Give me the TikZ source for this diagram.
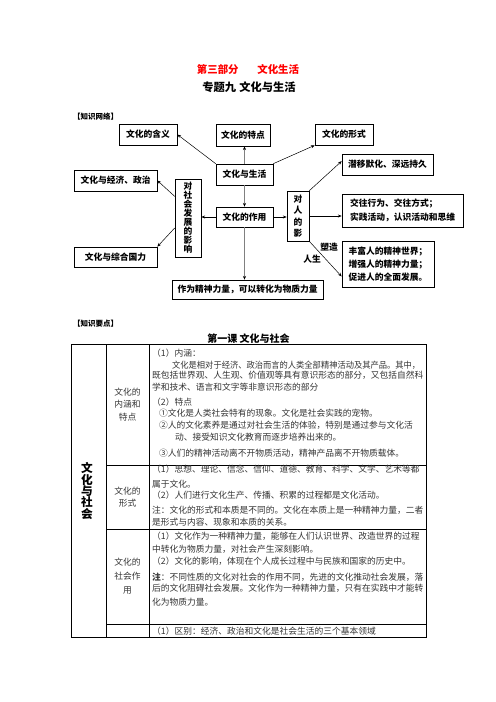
\documentclass[tikz,border=0pt]{standalone}
\usepackage{fontspec}
\usepackage{graphicx}
\setmainfont{Noto Sans CJK SC}
\usetikzlibrary{arrows.meta}

\tikzset{
  sz/.style 2 args={minimum width=#1*1.2pt, minimum height=#2*1.2pt},
  box/.style={draw, line width=0.8pt, inner sep=0pt, align=center,
    font=\bfseries\fontsize{10.5}{12}\selectfont},
  link/.style={-{Stealth[length=4.5pt,width=3.6pt]}, line width=0.6pt},
  glink/.style={-{Stealth[length=4.5pt,width=3.8pt,color=black]}, draw=gray, line width=1.6pt},
  lab/.style={inner sep=0pt, font=\bfseries\fontsize{10.5}{12}\selectfont},
  tag/.style={anchor=west, inner sep=0pt, font=\bfseries\fontsize{9}{10}\selectfont},
  body/.style={anchor=west, inner sep=0pt, text=black!80, font=\fontsize{10.5}{12}\selectfont},
  side/.style={inner sep=0pt, align=center, text=black!80}
}

\begin{document}
\begin{tikzpicture}[x=1.2pt, y=-1.2pt]
\useasboundingbox (0,0) rectangle (496,702);

% titles
\node[text=red, font=\bfseries\fontsize{12.5}{14}\selectfont] (part) at (248,69) {第三部分\hspace{1.8em}文化生活};
\node[font=\bfseries\fontsize{13.5}{15}\selectfont] (topic) at (249,87) {专题九\hspace{0.3em}文化与生活};
\node[tag] (net) at (73,117) {【知识网络】};

% knowledge map
\node[box, sz={58}{21}] (hanyi) at (148,134.5) {文化的含义};
\node[box, sz={54}{22}] (tedian) at (243,135) {文化的特点};
\node[box, sz={58}{21}] (xingshi) at (344,134.5) {文化的形式};
\node[box, sz={57}{21}] (shenghuo) at (244.5,174.5) {文化与生活};
\node[box, sz={83}{21}] (jingji) at (115.5,180.5) {文化与经济、政治};
\node[box, sz={26}{78}, font=\bfseries\fontsize{10.5}{10.8}\selectfont] (shehui) at (188,218)
  {对\\社\\会\\发\\展\\的\\影\\响};
\node[box, sz={57}{20}] (zuoyong) at (244.5,217) {文化的作用};
\node[box, sz={83}{20}] (guoli) at (115.5,257) {文化与综合国力};
\node[box, sz={151}{19}] (liliang) at (247.5,289.5) {作为精神力量，可以转化为物质力量};
\node[box, sz={22}{50}, font=\bfseries\fontsize{10.5}{13.8}\selectfont] (duiren) at (298,216)
  {对\\人\\的\\影};
\node[box, sz={91}{21}] (qianyi) at (387.5,164.5) {潜移默化、深远持久};
\node[box, sz={121}{33}, align=left, font=\bfseries\fontsize{10.5}{16}\selectfont] (jiaowang) at (402.5,210.5)
  {交往行为、交往方式；\\实践活动，认识活动和思维};
\node[box, sz={92}{46}, align=left, font=\bfseries\fontsize{10.5}{15.6}\selectfont] (fengfu) at (388,264)
  {丰富人的精神世界；\\增强人的精神力量；\\促进人的全面发展。};
\node[lab] (suzao) at (329,247) {塑造};
\node[lab] (rensheng) at (312,259) {人生};

\draw[link] (shenghuo.north west) -- (hanyi.east);
\draw[link] (shenghuo.north east) -- (xingshi.south west);
\draw[glink] (shenghuo.north) -- (shenghuo.north |- tedian.south);
\draw[glink] (shenghuo.south) -- (shenghuo.south |- zuoyong.north);
\draw[glink] (zuoyong.south) -- (zuoyong.south |- liliang.north);
\draw[link] (zuoyong.west) -- (zuoyong.west -| shehui.east);
\draw[link] (zuoyong.east) -- (zuoyong.east -| duiren.west);
\draw[link] ([yshift=26pt]shehui.west) -- (jingji.east);
\draw[link] ([yshift=-12pt]shehui.west) -- (guoli.north east);
\draw[link] (duiren.north east) -- ([yshift=4pt]qianyi.west);
\draw[link] (duiren.east) -- (duiren.east -| jiaowang.west);
\draw[link] (duiren.south east) -- ([yshift=-15pt]fengfu.west);

% key points table
\node[tag] (keys) at (73,324) {【知识要点】};
\node[font=\bfseries\fontsize{12}{14}\selectfont] (lesson) at (248.5,339) {第一课 文化与社会};

\draw[line width=1.1pt] (71,344) rectangle (426,637);
\draw[line width=0.9pt] (106,344) -- (106,637) (149,344) -- (149,637);
\draw[line width=0.9pt] (106,465) -- (426,465) (106,529) -- (426,529) (106,624) -- (426,624);

\node[side, font=\bfseries\fontsize{14}{13.7}\selectfont, text=black] (unit) at (87,491) {文\\化\\与\\社\\会};
\node[side, font=\fontsize{10.5}{15}\selectfont] (sa) at (127.5,404.5) {文化的\\内涵和\\特点};
\node[side, font=\fontsize{10.5}{14.4}\selectfont] (sb) at (127.5,497) {文化的\\形式};
\node[side, font=\fontsize{10.5}{16.8}\selectfont] (sc) at (127.5,576) {文化的\\社会作\\用};

\foreach \xx/\yy/\txt [count=\i] in {
  152/352.7/{（1）内涵：},
  172/365/{\scalebox{0.945}[1]{文化是相对于经济、政治而言的人类全部精神活动及其产品。其中，}},
  152/375.7/{既包括世界观、人生观、价值观等具有意识形态的部分，又包括自然科},
  152/387.3/{学和技术、语言和文字等非意识形态的部分},
  152/402/{（2）特点},
  159/413.3/{①文化是人类社会特有的现象。文化是社会实践的宠物。},
  159/425.7/{②人的文化素养是通过对社会生活的体验，特别是通过参与文化活},
  175/437.3/{动、接受知识文化教育而逐步培养出来的。},
  159/453.3/{③人们的精神活动离不开物质活动，精神产品离不开物质载体。}}
  \node[body] (ra\i) at (\xx,\yy) {\txt};

\foreach \yy/\txt [count=\i] in {
  469.3/{（1）思想、理论、信念、信仰、道德、教育、科学、文学、艺术等都},
  484/{属于文化。},
  495/{（2）人们进行文化生产、传播、积累的过程都是文化活动。},
  510/{注：文化的形式和本质是不同的。文化在本质上是一种精神力量，二者},
  521.7/{是形式与内容、现象和本质的关系。}}
  \node[body] (rb\i) at (152,\yy) {\txt};

\foreach \yy/\txt [count=\i] in {
  536.7/{（1）文化作为一种精神力量，能够在人们认识世界、改造世界的过程},
  549.3/{中转化为物质力量，对社会产生深刻影响。},
  561/{（2）文化的影响，体现在个人成长过程中与民族和国家的历史中。},
  576.7/{{\bfseries 注}：不同性质的文化对社会的作用不同，先进的文化推动社会发展，落},
  588.3/{后的文化阻碍社会发展。文化作为一种精神力量，只有在实践中才能转},
  601.7/{化为物质力量。}}
  \node[body] (rc\i) at (152,\yy) {\txt};

\node[body] (rd1) at (152,630.7) {（1）区别：经济、政治和文化是社会生活的三个基本领域};
\end{tikzpicture}
\end{document}
